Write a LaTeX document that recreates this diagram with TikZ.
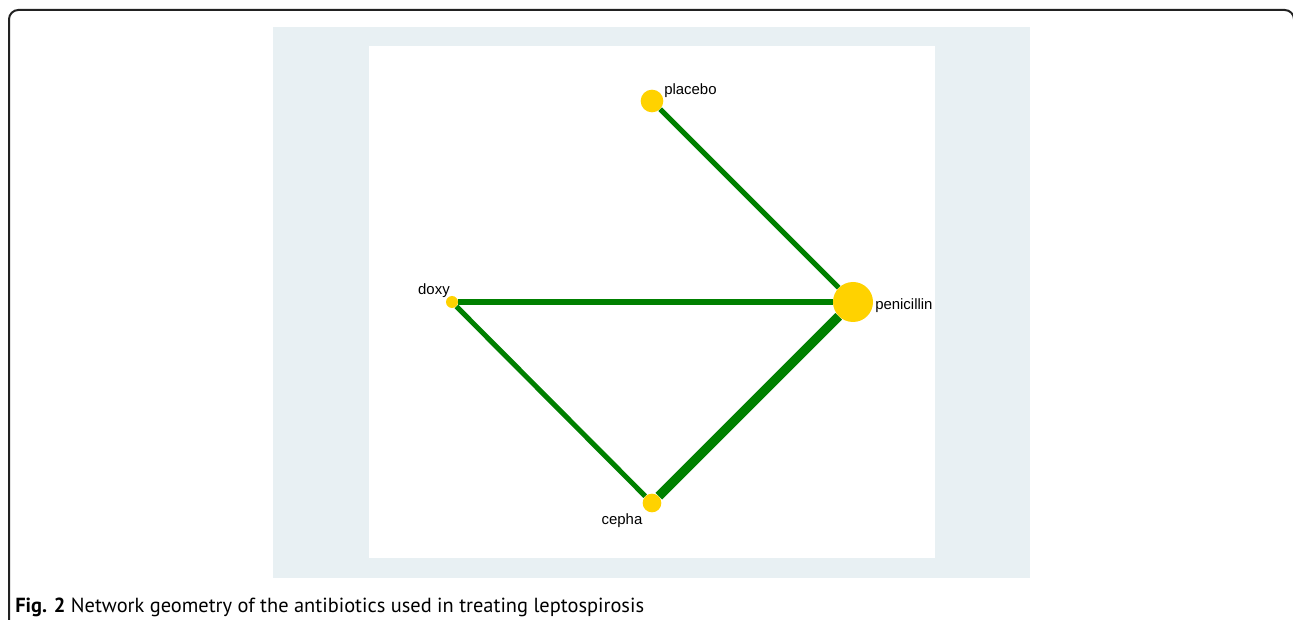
\documentclass[tikz,border=0pt]{standalone}
\usepackage{fontspec}
\setmainfont{Liberation Sans}
\newfontfamily\capfont{PT Sans}
\definecolor{panelbg}{HTML}{E8F0F3}
\definecolor{netgreen}{HTML}{008000}
\definecolor{trtgold}{HTML}{FFD200}
\definecolor{framegray}{HTML}{222222}

\begin{document}
\begin{tikzpicture}[x=0.75pt,y=-0.75pt,
  trt/.style={circle,fill=trtgold,inner sep=0pt},
  arm/.style={draw=netgreen,line width=3.8pt},
  lbl/.style={font=\fontsize{11.2}{13}\selectfont,inner sep=0pt}]
  \useasboundingbox (0,0) rectangle (1293,620);
  % frame and panels
  \draw[framegray,line width=1.5pt,rounded corners=7pt] (9,625) -- (9,10) -- (1294,10) -- (1294,625);
  \fill[panelbg] (273,27) rectangle (1030,578);
  \fill[white] (369,46) rectangle (935,558);
  % treatments
  \node[trt,minimum size=17pt] (placebo) at (652,101) {};
  \node[trt,minimum size=9pt] (doxy) at (452,302) {};
  \node[trt,minimum size=30pt] (penicillin) at (853,302) {};
  \node[trt,minimum size=14pt] (cepha) at (652,503) {};
  \node[lbl,anchor=west] (placebo-l) at (664,91) {placebo};
  \node[lbl,anchor=east] (doxy-l) at (450,291) {doxy};
  \node[lbl,anchor=west] (penicillin-l) at (875,306) {penicillin};
  \node[lbl] (cepha-l) at (622,521) {cepha};
  % comparisons
  \draw[arm] (placebo) -- (penicillin);
  \draw[arm] (doxy) -- (penicillin);
  \draw[arm] (doxy) -- (cepha);
  \draw[arm,line width=7pt] (cepha) -- (penicillin);
  % caption
  \node[anchor=base west,inner sep=0pt,font=\capfont\fontsize{15.3}{18}\selectfont] (caption) at (15,612)
    {\textbf{Fig. 2} Network geometry of the antibiotics used in treating leptospirosis};
\end{tikzpicture}
\end{document}
